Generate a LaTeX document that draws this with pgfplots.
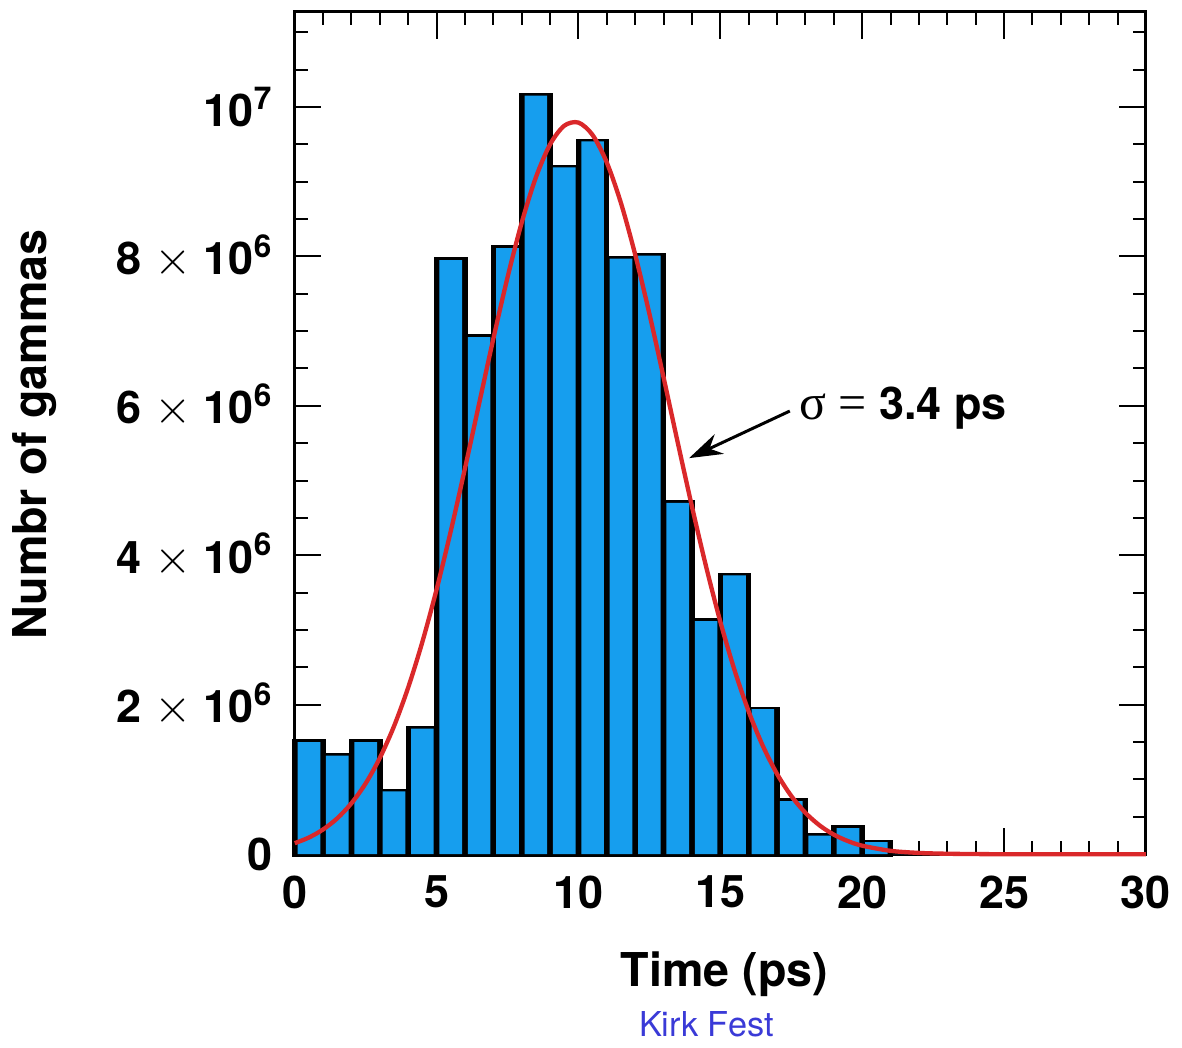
\documentclass[border=0pt]{standalone}
\usepackage{fontspec}
\setmainfont{TeX Gyre Heros}
\newfontfamily\symfont{Liberation Serif}
\usepackage{pgfplots}
\pgfplotsset{compat=1.18}
\usepackage{pgfplotstable}
\usetikzlibrary{arrows.meta}

\definecolor{barblue}{RGB}{22,158,238}
\definecolor{fitred}{RGB}{218,40,42}
\definecolor{kirkblue}{RGB}{58,58,215}

% histogram: left bin edge, counts
\pgfplotstableread{
x y
0 1.50e6
1 1.32e6
2 1.50e6
3 0.84e6
4 1.68e6
5 7.95e6
6 6.92e6
7 8.11e6
8 10.15e6
9 9.19e6
10 9.54e6
11 7.97e6
12 8.01e6
13 4.70e6
14 3.12e6
15 3.73e6
16 1.94e6
17 0.71e6
18 0.25e6
19 0.35e6
20 0.16e6
21 0
}\bins

% fitted curve
\pgfplotstableread{
x y
0 0.147e6
0.5 0.223e6
1 0.331e6
1.5 0.480e6
2 0.682e6
2.5 0.947e6
3 1.288e6
3.5 1.713e6
4 2.231e6
4.5 2.842e6
5 3.543e6
5.5 4.323e6
6 5.162e6
6.5 6.031e6
7 6.897e6
7.5 7.718e6
8 8.451e6
8.5 9.057e6
9 9.498e6
9.5 9.748e6
10 9.790e6
10.5 9.623e6
11 9.255e6
11.5 8.711e6
12 8.023e6
12.5 7.233e6
13 6.380e6
13.5 5.508e6
14 4.653e6
14.5 3.847e6
15 3.112e6
15.5 2.464e6
16 1.909e6
16.5 1.448e6
17 1.074e6
17.5 0.780e6
18 0.554e6
18.5 0.385e6
19 0.262e6
19.5 0.175e6
20 0.114e6
21 0.045e6
22 0.017e6
23 0.006e6
24 0.002e6
25 0
30 0
}\fit

\begin{document}
\begin{tikzpicture}
\path (-88.5pt,-55.8pt) rectangle (266.1pt,256.5pt);
\begin{axis}[
    scale only axis,
    width=255.6pt, height=252.9pt,
    xmin=0, xmax=30,
    ymin=0, ymax=11.27e6,
    clip=false,
    axis line style={line width=0.9pt},
    every tick/.style={black, line width=0.6pt},
    major tick length=8pt,
    minor tick length=4pt,
    tick align=inside,
    tick pos=both,
    xtick={0,5,10,15,20,25,30},
    xticklabels={0,5,10,15,20,25,30},
    minor xtick={1,2,3,4,6,7,8,9,11,12,13,14,16,17,18,19,21,22,23,24,26,27,28,29},
    ytick={0,2e6,4e6,6e6,8e6,10e6},
    yticklabels={0,{2 $\times$ 10\textsuperscript{6}},{4 $\times$ 10\textsuperscript{6}},{6 $\times$ 10\textsuperscript{6}},{8 $\times$ 10\textsuperscript{6}},{10\textsuperscript{7}}},
    minor ytick={0.5e6,1e6,1.5e6,2.5e6,3e6,3.5e6,4.5e6,5e6,5.5e6,6.5e6,7e6,7.5e6,8.5e6,9e6,9.5e6,10.5e6,11e6},
    scaled y ticks=false,
    tick label style={font=\fontsize{13.5}{13.5}\selectfont\bfseries},
    xticklabel style={yshift=-3pt},
    yticklabel style={xshift=-3pt},
]
% black backing fills the whole bin; the blue bar sits 0.1 ps inside each edge
\addplot[ybar interval, fill=black, draw=black, line width=1.6pt] table[x=x, y=y] {\bins};
\addplot[ybar, bar width=0.8, bar shift=0pt, fill=barblue, draw=none] table[x expr=\thisrow{x}+0.5, y=y] {\bins};
\addplot[fitred, line width=1.3pt, smooth, mark=none] table[x=x, y=y] {\fit};
\draw[line width=0.9pt, -{Stealth[length=10pt, width=6.5pt]}] (axis cs:17.45,5.93e6) -- (axis cs:13.9,5.30e6);
\node[anchor=west, inner sep=0pt, font=\fontsize{13.5}{13.5}\selectfont] at (axis cs:17.75,5.97e6)
    {{\symfont\fontsize{15}{15}\selectfont σ = }\textbf{3.4 ps}};
\end{axis}
\node[rotate=90, font=\fontsize{14}{14}\selectfont\bfseries] at (-78pt,126pt) {Numbr of gammas};
\node[font=\fontsize{14}{14}\selectfont\bfseries] at (129pt,-36pt) {Time (ps)};
\node[font=\fontsize{10.3}{10.3}\selectfont, text=kirkblue] at (123.6pt,-51pt) {Kirk Fest};
\end{tikzpicture}
\end{document}
